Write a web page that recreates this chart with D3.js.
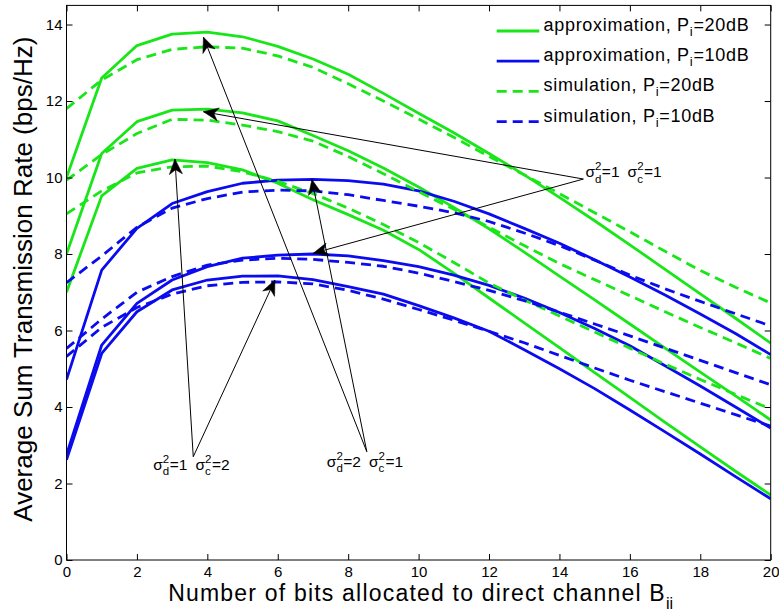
<!DOCTYPE html>
<html>
<head>
<meta charset="utf-8">
<script src="https://cdn.jsdelivr.net/npm/d3@7/dist/d3.min.js"></script>
<style>
  body { margin: 0; background: #fff; }
  svg { display: block; }
  text { font-family: "Liberation Sans", Arial, Helvetica, sans-serif; fill: #000; }
</style>
</head>
<body>
<svg id="chart" width="779" height="614"></svg>
<script>
// Bits allocated to the direct channel
const bits = [0, 1, 2, 3, 4, 5, 6, 7, 8, 9, 10, 11, 12, 13, 14, 15, 16, 17, 18, 19, 20];

// Average sum rate (bps/Hz), P_i = 20 dB
const approx20_d2c1 = [10.0, 12.6, 13.45, 13.75, 13.8, 13.68, 13.43, 13.1, 12.7, 12.2, 11.68, 11.17, 10.63, 10.07, 9.48, 8.87, 8.24, 7.6, 6.96, 6.32, 5.67];
const sim20_d2c1    = [11.8, 12.55, 13.08, 13.35, 13.42, 13.38, 13.18, 12.88, 12.45, 12.0, 11.53, 11.05, 10.55, 10.07, 9.58, 9.08, 8.58, 8.07, 7.57, 7.13, 6.72];
const approx20_d1c1 = [8.0, 10.63, 11.46, 11.76, 11.79, 11.69, 11.48, 11.1, 10.7, 10.25, 9.75, 9.22, 8.66, 8.05, 7.42, 6.8, 6.17, 5.54, 4.91, 4.29, 3.66];
const sim20_d1c1    = [9.93, 10.6, 11.15, 11.52, 11.5, 11.37, 11.2, 10.95, 10.55, 10.1, 9.63, 9.17, 8.7, 8.22, 7.75, 7.33, 6.91, 6.49, 6.08, 5.68, 5.27];
const approx20_d1c2 = [7.0, 9.52, 10.24, 10.46, 10.39, 10.2, 9.85, 9.42, 9.03, 8.62, 8.12, 7.5, 6.85, 6.2, 5.55, 4.9, 4.25, 3.6, 2.96, 2.32, 1.7];
const sim20_d1c2    = [9.05, 9.65, 10.12, 10.28, 10.3, 10.15, 9.9, 9.58, 9.2, 8.77, 8.3, 7.78, 7.24, 6.8, 6.38, 5.96, 5.54, 5.12, 4.72, 4.33, 3.95];

// Average sum rate (bps/Hz), P_i = 10 dB
const approx10_d2c1 = [4.72, 7.58, 8.67, 9.32, 9.63, 9.85, 9.93, 9.95, 9.92, 9.83, 9.65, 9.38, 9.05, 8.67, 8.28, 7.85, 7.4, 6.93, 6.43, 5.92, 5.37];
const sim10_d2c1    = [7.25, 7.95, 8.7, 9.2, 9.45, 9.62, 9.67, 9.65, 9.55, 9.4, 9.25, 9.08, 8.85, 8.55, 8.22, 7.84, 7.45, 7.09, 6.76, 6.44, 6.12];
const approx10_d1c1 = [2.75, 5.62, 6.71, 7.32, 7.67, 7.89, 7.97, 8.0, 7.95, 7.83, 7.67, 7.45, 7.18, 6.85, 6.47, 6.05, 5.6, 5.08, 4.55, 4.0, 3.45];
const sim10_d1c1    = [5.53, 6.3, 7.0, 7.41, 7.71, 7.84, 7.89, 7.86, 7.78, 7.68, 7.5, 7.28, 7.05, 6.78, 6.48, 6.17, 5.86, 5.54, 5.22, 4.9, 4.58];
const approx10_d1c2 = [2.62, 5.4, 6.49, 7.06, 7.32, 7.42, 7.43, 7.33, 7.15, 6.95, 6.65, 6.33, 5.98, 5.5, 5.0, 4.48, 3.92, 3.35, 2.77, 2.18, 1.6];
const sim10_d1c2    = [5.32, 6.08, 6.6, 6.95, 7.17, 7.26, 7.27, 7.22, 7.05, 6.82, 6.55, 6.27, 5.98, 5.68, 5.35, 5.02, 4.7, 4.4, 4.1, 3.8, 3.5];

// Axis ticks
const xTicks = [0, 2, 4, 6, 8, 10, 12, 14, 16, 18, 20];
const yTicks = [0, 2, 4, 6, 8, 10, 12, 14];

// Legend entries
const legendLabels = [
  ["approximation, P", "i", "=20dB"],
  ["approximation, P", "i", "=10dB"],
  ["simulation, P", "i", "=20dB"],
  ["simulation, P", "i", "=10dB"]
];

const GREEN = "#19e619";
const BLUE = "#0b0bf0";
const DASH = "10,6";

const svg = d3.select("#chart");
const plot = { left: 66.5, right: 770.7, top: 5.4, bottom: 560 };

const x = d3.scaleLinear().domain([0, 20]).range([plot.left, plot.right]);
const y = d3.scaleLinear().domain([0, 14.5]).range([plot.bottom, plot.top]);

// Curves: solid = approximation, dashed = simulation
const series = [
  { values: approx20_d2c1, color: GREEN, dash: null },
  { values: approx20_d1c1, color: GREEN, dash: null },
  { values: approx20_d1c2, color: GREEN, dash: null },
  { values: approx10_d2c1, color: BLUE, dash: null },
  { values: approx10_d1c1, color: BLUE, dash: null },
  { values: approx10_d1c2, color: BLUE, dash: null },
  { values: sim20_d2c1, color: GREEN, dash: DASH },
  { values: sim20_d1c1, color: GREEN, dash: DASH },
  { values: sim20_d1c2, color: GREEN, dash: DASH },
  { values: sim10_d2c1, color: BLUE, dash: DASH },
  { values: sim10_d1c1, color: BLUE, dash: DASH },
  { values: sim10_d1c2, color: BLUE, dash: DASH }
];

svg.append("defs").append("clipPath").attr("id", "plotClip")
  .append("rect")
  .attr("x", plot.left).attr("y", plot.top)
  .attr("width", plot.right - plot.left).attr("height", plot.bottom - plot.top);

const line = d3.line()
  .x((d, i) => x(bits[i]))
  .y(d => y(d));

svg.append("g").attr("clip-path", "url(#plotClip)")
  .selectAll("path")
  .data(series)
  .join("path")
  .attr("d", s => line(s.values))
  .attr("fill", "none")
  .attr("stroke", s => s.color)
  .attr("stroke-width", 2.8)
  .attr("stroke-dasharray", s => s.dash)
  .attr("stroke-linejoin", "round");

// Axes with inward ticks on all four sides
const styleAxis = g => {
  g.select(".domain").remove();
  g.selectAll(".tick line").attr("stroke", "#000").attr("stroke-width", 1);
  g.selectAll(".tick text").attr("font-size", 15).attr("fill", "#000")
    .attr("font-family", '"Liberation Sans", Arial, sans-serif');
};

svg.append("g")
  .attr("transform", `translate(0,${plot.bottom})`)
  .call(d3.axisBottom(x).tickValues(xTicks).tickSize(-6).tickPadding(6).tickFormat(d3.format("d")))
  .call(styleAxis);

svg.append("g")
  .attr("transform", `translate(${plot.left},0)`)
  .call(d3.axisLeft(y).tickValues(yTicks).tickSize(-6).tickPadding(4).tickFormat(d3.format("d")))
  .call(styleAxis);

svg.append("g")
  .attr("transform", `translate(0,${plot.top})`)
  .call(d3.axisTop(x).tickValues(xTicks).tickSize(-6).tickFormat(""))
  .call(styleAxis);

svg.append("g")
  .attr("transform", `translate(${plot.right},0)`)
  .call(d3.axisRight(y).tickValues(yTicks).tickSize(-6).tickFormat(""))
  .call(styleAxis);

svg.append("rect")
  .attr("x", plot.left).attr("y", plot.top)
  .attr("width", plot.right - plot.left).attr("height", plot.bottom - plot.top)
  .attr("fill", "none").attr("stroke", "#000").attr("stroke-width", 1);

// Axis titles
const xTitle = svg.append("text")
  .attr("x", (plot.left + plot.right) / 2 + 2)
  .attr("y", 601)
  .attr("text-anchor", "middle")
  .attr("font-size", 23)
  .attr("letter-spacing", 1.2);
xTitle.append("tspan").text("Number of bits allocated to direct channel B");
xTitle.append("tspan").attr("font-size", 16).attr("dy", 8).attr("letter-spacing", 0).text("ii");

svg.append("text")
  .attr("transform", `translate(32,${(plot.top + plot.bottom) / 2 - 3.5}) rotate(-90)`)
  .attr("text-anchor", "middle")
  .attr("font-size", 26)
  .text("Average Sum Transmission Rate (bps/Hz)");

// Legend
const legend = svg.append("g");
legendLabels.forEach((lab, i) => {
  const by = 31 + i * 30.2;
  const s = series[[0, 3, 6, 9][i]];
  legend.append("line")
    .attr("x1", 496.7).attr("x2", 539.3)
    .attr("y1", by).attr("y2", by)
    .attr("stroke", s.color).attr("stroke-width", 2.8)
    .attr("stroke-dasharray", s.dash);
  const t = legend.append("text").attr("x", 543.5).attr("y", by)
    .attr("font-size", 18).attr("letter-spacing", 0.7);
  t.append("tspan").text(lab[0]);
  t.append("tspan").attr("font-size", 13).attr("dy", 5).text(lab[1]);
  t.append("tspan").attr("dy", -5).text(lab[2]);
});

// Annotations: arrows from each label to the curves of that parameter pair
const annotations = [
  { tail: [3.60, 2.70], tips: [[3.08, 10.48], [5.92, 7.32]],
    d: "1", c: "2", dx: -40, dy: 13 },
  { tail: [8.53, 2.83], tips: [[3.89, 13.67], [6.97, 9.95]],
    d: "2", c: "1", dx: -40, dy: 15 },
  { tail: [14.68, 9.96], tips: [[3.89, 11.72], [7.01, 8.02]],
    d: "1", c: "1", dx: 2, dy: -2 }
];

const ann = svg.append("g");

function arrowHead(g, tx, ty, fx, fy) {
  const ang = Math.atan2(ty - fy, tx - fx);
  const L = 15, W = 6.5, N = 10.5;
  const pt = (along, across) => [
    tx - along * Math.cos(ang) - across * Math.sin(ang),
    ty - along * Math.sin(ang) + across * Math.cos(ang)
  ];
  const pts = [[tx, ty], pt(L, W), pt(N, 0), pt(L, -W)];
  g.append("path").attr("d", "M" + pts.map(p => p.join(",")).join("L") + "Z")
    .attr("fill", "#000").attr("stroke", "#000").attr("stroke-width", 0.6);
}

function sigmaTerm(g, x0, y0, sub, val) {
  const t1 = g.append("text").attr("x", x0).attr("y", y0).attr("font-size", 15.5).text("σ");
  const w1 = t1.node().getComputedTextLength();
  const sup = g.append("text").attr("x", x0 + w1).attr("y", y0 - 7).attr("font-size", 11.5).text("2");
  const sb = g.append("text").attr("x", x0 + w1).attr("y", y0 + 5.5).attr("font-size", 11.5).text(sub);
  const w2 = Math.max(sup.node().getComputedTextLength(), sb.node().getComputedTextLength());
  const t2 = g.append("text").attr("x", x0 + w1 + w2 + 0.5).attr("y", y0).attr("font-size", 15.5).text("=" + val);
  return x0 + w1 + w2 + 0.5 + t2.node().getComputedTextLength();
}

annotations.forEach(a => {
  const fx = x(a.tail[0]), fy = y(a.tail[1]);
  a.tips.forEach(tp => {
    const tx = x(tp[0]), ty = y(tp[1]);
    ann.append("line")
      .attr("x1", fx).attr("y1", fy).attr("x2", tx).attr("y2", ty)
      .attr("stroke", "#000").attr("stroke-width", 1);
    arrowHead(ann, tx, ty, fx, fy);
  });
  const lx = fx + a.dx, ly = fy + a.dy;
  const end = sigmaTerm(ann, lx, ly, "d", a.d);
  sigmaTerm(ann, end + 8, ly, "c", a.c);
});
</script>
</body>
</html>
